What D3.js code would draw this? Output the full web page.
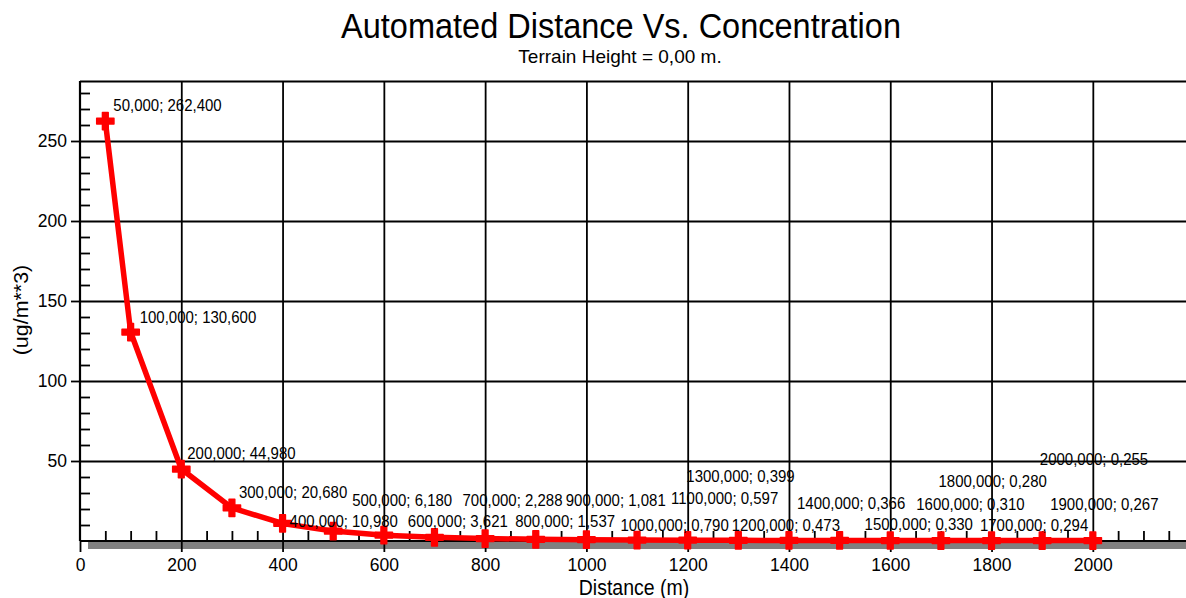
<!DOCTYPE html>
<html>
<head>
<meta charset="utf-8">
<script src="https://cdn.jsdelivr.net/npm/d3@7"></script>
<style>
  body { margin: 0; background: #fff; }
  svg text { font-family: "Liberation Sans", Arial, sans-serif; fill: #000; }
</style>
</head>
<body>
<svg id="chart" width="1186" height="598"></svg>
<script>
// data
const distances = [50, 100, 200, 300, 400, 500, 600, 700, 800, 900, 1000,
  1100, 1200, 1300, 1400, 1500, 1600, 1700, 1800, 1900, 2000];
const concentrations = [262.4, 130.6, 44.98, 20.68, 10.98, 6.18, 3.621, 2.288, 1.537, 1.081, 0.79,
  0.597, 0.473, 0.399, 0.366, 0.33, 0.31, 0.294, 0.28, 0.267, 0.255];
const xTickValues = [0, 200, 400, 600, 800, 1000, 1200, 1400, 1600, 1800, 2000];
const yTickValues = [50, 100, 150, 200, 250];

// label nudges (px) so the marks don't sit on each other, like the original
const labelDx = [8, 9, 6, 7, 7, 19, 24, 28, 30, 30, 34, 34, 44, -52, 8, 25, 26, 39, -53, 8, -53];
const labelDy = [-10, -9, -10, -10, 4, -25, -8, -31, -12, -33, -9, -36, -9, -58, -31, -10, -31, -10, -54, -31, -76];

const svg = d3.select("#chart");
const plotLeft = 80, plotRight = 1186, plotTop = 81, plotBottom = 541;
const stretch = 1.1; // the source picture is a bit taller than wide

const x = d3.scaleLinear().domain([0, 2184]).range([plotLeft, plotRight]);
const y = d3.scaleLinear().domain([0, 287.5]).range([plotBottom, plotTop]);

// grid
svg.append("g")
  .attr("transform", `translate(0,${plotBottom})`)
  .call(d3.axisBottom(x).tickValues(xTickValues.slice(1)).tickSize(-(plotBottom - plotTop)).tickFormat(""))
  .call(g => g.select(".domain").remove())
  .selectAll("line").attr("stroke", "#000").attr("stroke-width", 1.8);

svg.append("g")
  .attr("transform", `translate(${plotLeft},0)`)
  .call(d3.axisLeft(y).tickValues(yTickValues.concat([287.5])).tickSize(-(plotRight - plotLeft)).tickFormat(""))
  .call(g => g.select(".domain").remove())
  .selectAll("line").attr("stroke", "#000").attr("stroke-width", 1.8);

// shadow under the x axis
svg.append("rect")
  .attr("x", plotLeft + 8).attr("y", plotBottom + 1)
  .attr("width", plotRight - plotLeft).attr("height", 7)
  .attr("fill", "#808080");

// minor ticks (inside)
svg.append("g")
  .attr("transform", `translate(0,${plotBottom})`)
  .call(d3.axisBottom(x).tickValues(d3.range(50, 2184, 50).filter(v => v % 200)).tickSize(-10).tickFormat(""))
  .call(g => g.select(".domain").remove())
  .selectAll("line").attr("stroke", "#000").attr("stroke-width", 1.8);

svg.append("g")
  .attr("transform", `translate(${plotLeft},0)`)
  .call(d3.axisLeft(y).tickValues(d3.range(10, 287, 10).filter(v => v % 50)).tickSize(-10).tickFormat(""))
  .call(g => g.select(".domain").remove())
  .selectAll("line").attr("stroke", "#000").attr("stroke-width", 1.8);

// major axes
svg.append("g")
  .attr("transform", `translate(0,${plotBottom})`)
  .call(d3.axisBottom(x).tickValues(xTickValues).tickFormat(d3.format("d"))
    .tickSize(11).tickPadding(7).tickSizeOuter(0))
  .call(g => g.select(".domain").remove())
  .call(g => g.selectAll("line").attr("stroke", "#000").attr("stroke-width", 1.8))
  .call(g => g.selectAll("text").attr("font-size", 17.5).attr("fill", "#000"));

svg.append("g")
  .attr("transform", `translate(${plotLeft},0)`)
  .call(d3.axisLeft(y).tickValues(yTickValues).tickSize(9).tickPadding(4).tickSizeOuter(0))
  .call(g => g.select(".domain").remove())
  .call(g => g.selectAll("line").attr("stroke", "#000").attr("stroke-width", 1.8))
  .call(g => g.selectAll("text").attr("font-size", 17.5).attr("fill", "#000"));

svg.append("line")
  .attr("x1", plotLeft).attr("x2", plotRight).attr("y1", plotBottom).attr("y2", plotBottom)
  .attr("stroke", "#000").attr("stroke-width", 2.2);
svg.append("line")
  .attr("x1", plotLeft).attr("x2", plotLeft).attr("y1", plotTop).attr("y2", plotBottom)
  .attr("stroke", "#000").attr("stroke-width", 2.2);

// series
const points = distances.map((d, i) => ({ d, v: concentrations[i], i }));

svg.append("path")
  .datum(points)
  .attr("fill", "none")
  .attr("stroke", "#ff0000")
  .attr("stroke-width", 5.5)
  .attr("stroke-linejoin", "round")
  .attr("d", d3.line().x(p => x(p.d)).y(p => y(p.v)));

svg.selectAll(".marker")
  .data(points)
  .join("path")
  .attr("class", "marker")
  .attr("transform", p => `translate(${x(p.d)},${y(p.v)})`)
  .attr("d", d3.symbol(d3.symbolCross, 165))
  .attr("fill", "#ff0000")
  .attr("stroke", "#ff0000")
  .attr("stroke-width", 1.5)
  .attr("stroke-linejoin", "round");

const fmt = d3.format(".3f");
const comma = n => fmt(n).replace(".", ",");

svg.selectAll(".mark-label")
  .data(points)
  .join("text")
  .attr("class", "mark-label")
  .attr("transform", p => `translate(${x(p.d) + labelDx[p.i]},${y(p.v) + labelDy[p.i]}) scale(1,${stretch})`)
  .attr("font-size", 15)
  .text(p => `${comma(p.d)}; ${comma(p.v)}`);

// titles
svg.append("text")
  .attr("transform", `translate(621,38) scale(1,${stretch})`)
  .attr("text-anchor", "middle")
  .attr("font-size", 32.5)
  .text("Automated Distance Vs. Concentration");

svg.append("text")
  .attr("transform", "translate(620,63)")
  .attr("text-anchor", "middle")
  .attr("font-size", 19)
  .text("Terrain Height = 0,00 m.");

svg.append("text")
  .attr("transform", `translate(634,595) scale(1,${stretch})`)
  .attr("text-anchor", "middle")
  .attr("font-size", 19.5)
  .text("Distance (m)");

svg.append("text")
  .attr("transform", `translate(28,310) rotate(-90) scale(${stretch},1)`)
  .attr("text-anchor", "middle")
  .attr("font-size", 19.5)
  .text("(ug/m**3)");
</script>
</body>
</html>
